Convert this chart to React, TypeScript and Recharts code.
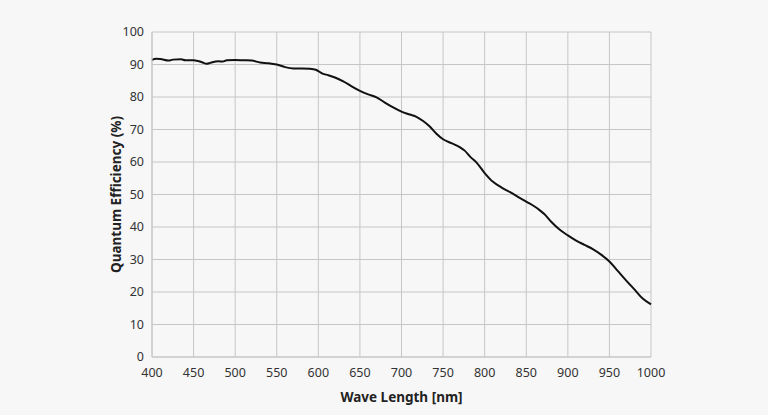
import React from "react";
import { LineChart, Line, XAxis, YAxis, CartesianGrid, Label } from "recharts";

const wavelengths = [400, 405, 410, 420, 425, 435, 440, 450, 455, 460, 466, 470, 480, 485, 490, 500, 510, 520, 530, 540, 550, 560, 570, 580, 590, 597, 605, 612, 620, 630, 640, 650, 660, 670, 680, 690, 700, 710, 718, 726, 734, 742, 750, 760, 770, 776, 783, 790, 800, 810, 820, 830, 840, 850, 860, 866, 872, 880, 890, 900, 910, 920, 930, 940, 950, 960, 970, 980, 990, 1000];
const efficiency = [91.4, 91.8, 91.7, 91.2, 91.5, 91.6, 91.3, 91.3, 91.1, 90.7, 90.2, 90.5, 91.0, 90.9, 91.3, 91.4, 91.3, 91.2, 90.6, 90.4, 90.0, 89.2, 88.8, 88.8, 88.7, 88.4, 87.2, 86.7, 86.0, 84.8, 83.3, 81.9, 80.8, 79.9, 78.3, 76.8, 75.5, 74.6, 73.9, 72.6, 70.9, 68.7, 67.0, 65.8, 64.6, 63.5, 61.5, 59.9, 56.6, 53.9, 52.2, 50.8, 49.3, 47.8, 46.3, 45.2, 43.9, 41.6, 39.2, 37.4, 35.8, 34.5, 33.2, 31.5, 29.4, 26.5, 23.6, 20.8, 18.0, 16.2];
const xTicks = [400, 450, 500, 550, 600, 650, 700, 750, 800, 850, 900, 950, 1000];
const yTicks = [0, 10, 20, 30, 40, 50, 60, 70, 80, 90, 100];

const data = wavelengths.map((w, i) => ({ w, qe: efficiency[i] }));

const FONT = "'Noto Sans', 'Open Sans', sans-serif";

export default function App() {
  return (
    <div style={{ position: "absolute", left: 0, top: 0, width: 768, height: 415, background: "#f7f7f7" }}>
      <LineChart width={768} height={415} data={data} margin={{ top: 32, right: 117, bottom: 28, left: 92 }}>
        <CartesianGrid stroke="#c6c6c6" strokeWidth={1} />
        <XAxis
          dataKey="w"
          type="number"
          domain={[400, 1000]}
          ticks={xTicks}
          interval={0}
          height={30}
          axisLine={{ stroke: "#c6c6c6" }}
          tickLine={false}
          tickMargin={5}
          tick={{ fill: "#333", fontSize: 12.5, fontFamily: FONT }}
        >
          <Label value="Wave Length [nm]" position="insideBottom" offset={-15} style={{ fill: "#222", fontSize: 13.5, fontWeight: 700, fontFamily: FONT }} />
        </XAxis>
        <YAxis
          type="number"
          domain={[0, 100]}
          ticks={yTicks}
          interval={0}
          width={60}
          axisLine={{ stroke: "#c6c6c6" }}
          tickLine={false}
          tick={{ fill: "#333", fontSize: 12.5, fontFamily: FONT }}
        >
          <Label value="Quantum Efficiency  (%)" angle={-90} position="insideLeft" offset={24} style={{ textAnchor: "middle", fill: "#222", fontSize: 13.5, fontWeight: 700, fontFamily: FONT }} />
        </YAxis>
        <Line type="monotone" dataKey="qe" stroke="#111" strokeWidth={2} dot={false} isAnimationActive={false} />
      </LineChart>
    </div>
  );
}
